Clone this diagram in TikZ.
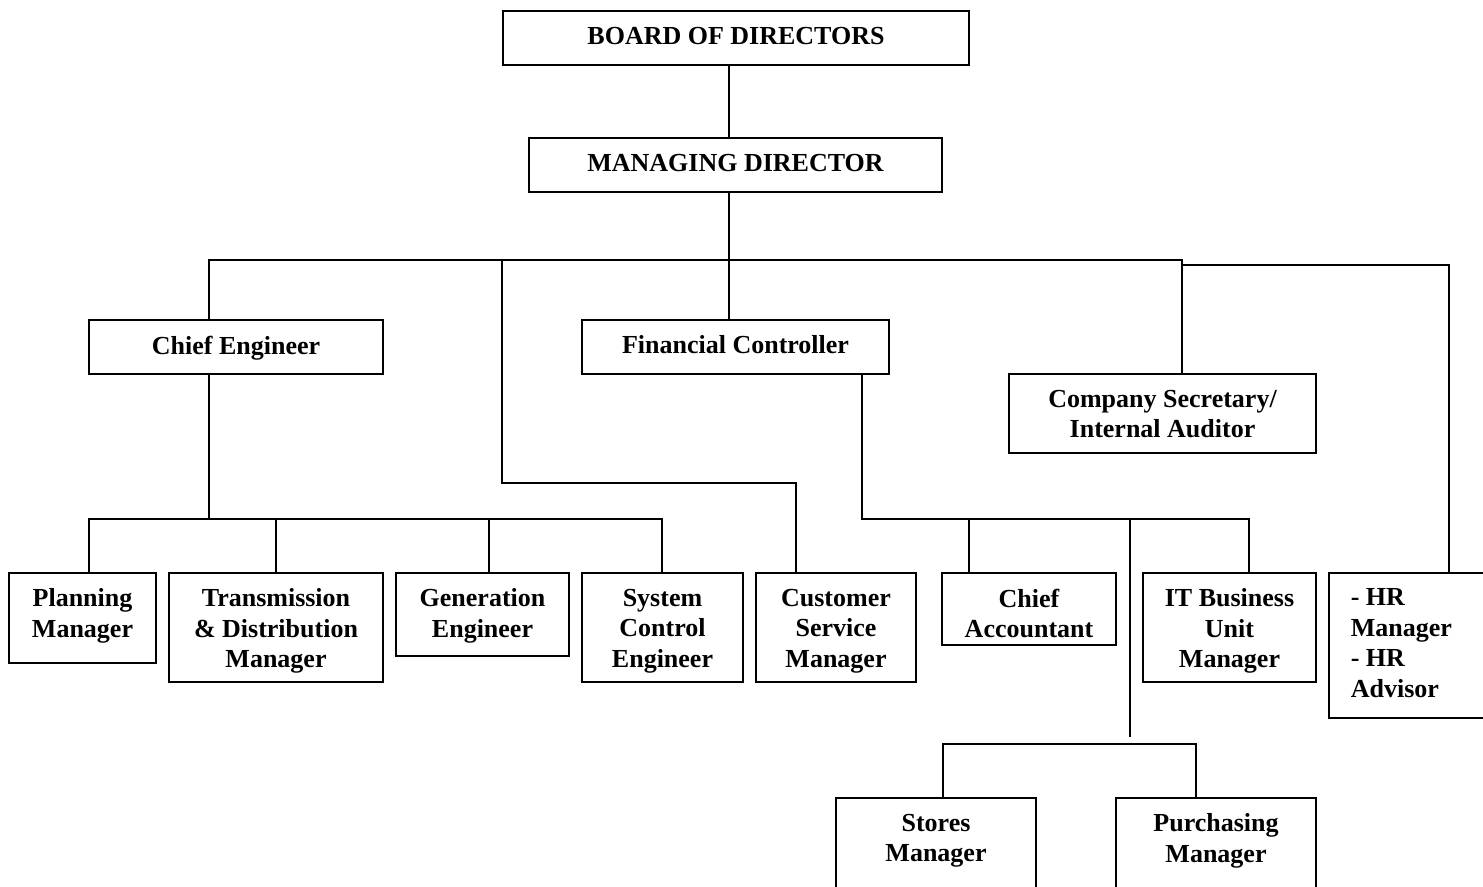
\documentclass[tikz,border=0pt]{standalone}
\usepackage{fontspec}
\setmainfont{Liberation Serif}
\newcommand{\orgfont}{\bfseries\fontsize{26bp}{30.5bp}\selectfont}
\tikzset{
  unit/.style={draw,anchor=north west,inner sep=0pt,outer sep=0pt},
  caption/.style={anchor=north,align=center,inner sep=0pt,yshift=-15bp,font=\orgfont},
  leftcaption/.style={anchor=north west,align=left,inner sep=0pt,xshift=21bp,yshift=-15bp,font=\orgfont},
}
\begin{document}
\begin{tikzpicture}[x=1bp,y=-1bp,line width=1.6bp,line join=miter]
\useasboundingbox (0,0) rectangle (1483,886);
\clip (0,0) rectangle (1483,886);
%% top of the tree
\node (board) [unit,minimum width=466bp,minimum height=54bp,label={[caption]north:BOARD OF DIRECTORS}] at (503,11) {};
\node (md) [unit,minimum width=413bp,minimum height=54bp,label={[caption]north:MANAGING DIRECTOR}] at (529,138) {};
%% heads
\node (ce) [unit,minimum width=294bp,minimum height=54bp,label={[caption]north:Chief Engineer}] at (89,320) {};
\node (fc) [unit,minimum width=307bp,minimum height=54bp,label={[caption]north:Financial Controller}] at (582,320) {};
\node (sec) [unit,minimum width=307bp,minimum height=79bp,label={[caption]north:{Company Secretary/\\Internal Auditor}}] at (1009,374) {};
%% managers and engineers
\node (plan) [unit,minimum width=147bp,minimum height=90bp,label={[caption]north:{Planning\\Manager}}] at (9,573) {};
\node (td) [unit,minimum width=214bp,minimum height=109bp,label={[caption]north:{Transmission\\\& Distribution\\Manager}}] at (169,573) {};
\node (gen) [unit,minimum width=173bp,minimum height=83bp,label={[caption]north:{Generation\\Engineer}}] at (396,573) {};
\node (sce) [unit,minimum width=161bp,minimum height=109bp,label={[caption]north:{System\\Control\\Engineer}}] at (582,573) {};
\node (csm) [unit,minimum width=160bp,minimum height=109bp,label={[caption]north:{Customer\\Service\\Manager}}] at (756,573) {};
\node (acct) [unit,minimum width=174bp,minimum height=72bp,label={[caption]north:{Chief\\Accountant}}] at (942,573) {};
\node (it) [unit,minimum width=173bp,minimum height=109bp,label={[caption]north:{IT Business\\Unit\\Manager}}] at (1143,573) {};
\node (hr) [unit,minimum width=170bp,minimum height=145bp,label={[leftcaption]north west:{- HR\\Manager\\- HR\\Advisor}}] at (1329,573) {};
\node (stores) [unit,minimum width=200bp,minimum height=110bp,label={[caption]north:{Stores\\Manager}}] at (836,798) {};
\node (purch) [unit,minimum width=200bp,minimum height=110bp,label={[caption]north:{Purchasing\\Manager}}] at (1116,798) {};
%% junctions
\coordinate (j_md) at (729,260);
\coordinate (j_ce) at (209,260);
\coordinate (j_cs) at (502,260);
\coordinate (j_sec) at (1182,260);
\coordinate (j_hr) at (1449,265);
\coordinate (k_cs) at (796,483);
\coordinate (j_eng) at (209,519);
\coordinate (j_fc) at (862,519);
\coordinate (j_store) at (1130,737);
%%
\draw (board.south -| j_md) -- (md.north -| j_md);
\draw (md.south -| j_md) -- (j_md) -- (fc.north -| j_md);
\draw (ce.north -| j_ce) -- (j_ce) -- (j_sec) -- (sec.north -| j_sec);
\draw (j_sec |- j_hr) -- (j_hr) -- (hr.north -| j_hr);
\draw (j_cs) |- (k_cs) -- (csm.north -| k_cs);
\draw (ce.south -| j_eng) -- (j_eng);
\draw (plan.north -| 89,0) |- (j_eng) -| (sce.north -| 662,0);
\draw (td.north -| 276,0) -- (j_eng -| 276,0);
\draw (gen.north -| 489,0) -- (j_eng -| 489,0);
\draw (fc.south -| j_fc) -- (j_fc) -| (it.north -| 1249,0);
\draw (acct.north -| 969,0) -- (j_fc -| 969,0);
\draw (j_fc -| j_store) -- (j_store);
\draw (stores.north -| 943,0) |- (1196,744) -- (purch.north -| 1196,0);
%
\end{tikzpicture}
\end{document}
